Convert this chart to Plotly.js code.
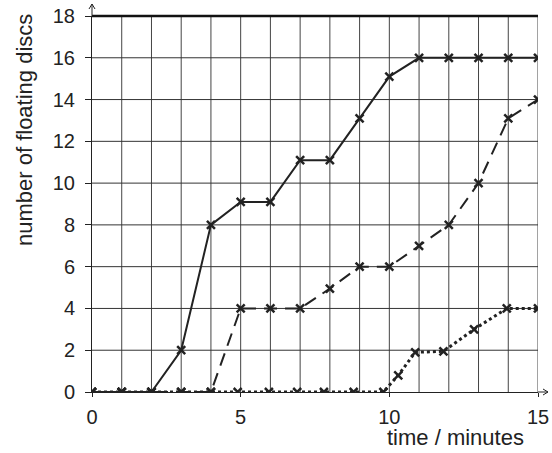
<!DOCTYPE html>
<html>
<head>
<meta charset="utf-8">
<script src="https://cdn.plot.ly/plotly-3.0.1.min.js"></script>
<style>
body { margin: 0; background: #fff; }
#chart { width: 552px; height: 453px; }
</style>
</head>
<body>
<div id="chart"></div>
<script>
// minutes and disc counts
var solidX = [0, 1, 2, 3, 4, 5, 6, 7, 8, 9, 10, 11, 12, 13, 14, 15];
var solidY = [0, 0, 0, 2, 8, 9.1, 9.1, 11.1, 11.1, 13.1, 15.1, 16, 16, 16, 16, 16];

var dashX = [0, 1, 2, 3, 4, 5, 6, 7, 8, 9, 10, 11, 12, 13, 14, 15];
var dashY = [0, 0, 0, 0, 0, 4, 4, 4, 4.95, 6, 6, 7, 8, 10, 13.1, 14];

var dotX = [0, 1, 2, 3, 4, 4.9, 5.95, 6.9, 7.8, 8.8, 9.8, 10.3, 10.87, 11.82, 12.85, 13.95, 15];
var dotY = [0, 0, 0, 0, 0, 0, 0, 0, 0, 0, 0, 0.8, 1.9, 1.95, 3, 4, 4];

var xTicks = [0, 5, 10, 15];
var yTicks = [0, 2, 4, 6, 8, 10, 12, 14, 16, 18];

var ink = '#222';
var markerStyle = {symbol: 'x-thin', size: 8, color: ink, line: {color: ink, width: 2.5}};

var traces = [
    {x: dotX, y: dotY, type: 'scatter', mode: 'lines+markers',
     line: {color: ink, width: 3, dash: '3px,3px'}, marker: markerStyle},
    {x: dashX, y: dashY, type: 'scatter', mode: 'lines+markers',
     line: {color: ink, width: 2, dash: '13px,8px'}, marker: markerStyle},
    {x: solidX, y: solidY, type: 'scatter', mode: 'lines+markers',
     line: {color: ink, width: 2}, marker: markerStyle}
];

// grid: vertical every minute, horizontal every 2 discs
var shapes = [];
for (var i = 1; i <= 15; i++) {
    shapes.push({type: 'line', xref: 'x', yref: 'y', x0: i, x1: i, y0: 0, y1: 18,
                 line: {color: '#444', width: 1}, layer: 'below'});
}
for (var j = 2; j <= 16; j += 2) {
    shapes.push({type: 'line', xref: 'x', yref: 'y', x0: 0, x1: 15, y0: j, y1: j,
                 line: {color: '#333', width: 1}, layer: 'below'});
}
// heavy top edge
shapes.push({type: 'line', xref: 'paper', yref: 'paper', x0: 0, x1: 1, y0: 1, y1: 1,
             line: {color: '#111', width: 2.5}});
// axis arrows, paper-anchored so they are not clipped
shapes.push({type: 'line', xref: 'paper', yref: 'paper', ysizemode: 'pixel', yanchor: 1,
             x0: 0, x1: 0, y0: 0, y1: 12, line: {color: ink, width: 1}});
shapes.push({type: 'path', xref: 'paper', yref: 'paper', xsizemode: 'pixel', ysizemode: 'pixel',
             xanchor: 0, yanchor: 1, path: 'M -3,7 L 0,12 L 3,7', line: {color: ink, width: 1}});
shapes.push({type: 'line', xref: 'paper', yref: 'paper', xsizemode: 'pixel', xanchor: 1,
             x0: 0, x1: 10, y0: 0, y1: 0, line: {color: ink, width: 1}});
shapes.push({type: 'path', xref: 'paper', yref: 'paper', xsizemode: 'pixel', ysizemode: 'pixel',
             xanchor: 1, yanchor: 0, path: 'M 5,3 L 10,0 L 5,-3', line: {color: ink, width: 1}});

var font = {family: 'Liberation Sans, Arial, sans-serif', size: 20, color: ink};

var layout = {
    width: 552,
    height: 453,
    margin: {l: 92, r: 14, t: 16, b: 61},
    paper_bgcolor: '#fff',
    plot_bgcolor: '#fff',
    showlegend: false,
    font: font,
    xaxis: {
        range: [0, 15], tickvals: xTicks, ticktext: xTicks.map(String),
        showgrid: false, zeroline: false, showline: true, linecolor: ink, linewidth: 1,
        ticks: 'outside', ticklen: 4, tickcolor: ink, tickfont: font,
        ticklabelstandoff: 3, fixedrange: true
    },
    yaxis: {
        range: [0, 18], tickvals: yTicks, ticktext: yTicks.map(String),
        showgrid: false, zeroline: false, showline: true, linecolor: ink, linewidth: 1,
        ticks: 'outside', ticklen: 6, tickcolor: ink, tickfont: font,
        ticklabelstandoff: 6, fixedrange: true
    },
    shapes: shapes,
    annotations: [
        {text: 'number of floating discs', xref: 'paper', yref: 'paper',
         x: -0.15, y: 0.697, xanchor: 'center', yanchor: 'middle',
         textangle: -90, showarrow: false,
         font: {family: font.family, size: 22, color: ink}},
        {text: 'time / minutes', xref: 'paper', yref: 'paper',
         x: 0.816, y: -0.122, xanchor: 'center', yanchor: 'middle', showarrow: false,
         font: {family: font.family, size: 22, color: ink}}
    ]
};

Plotly.newPlot('chart', traces, layout, {displayModeBar: false, staticPlot: true});
</script>
</body>
</html>
